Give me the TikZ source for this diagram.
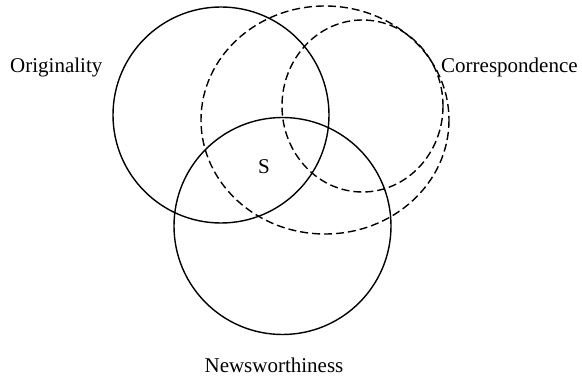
\documentclass[tikz,border=0pt]{standalone}
\usepackage{fontspec}
\setmainfont{Liberation Serif}
\begin{document}
\begin{tikzpicture}[x=1pt,y=-1pt,
  solidset/.style={draw=black,line width=1.4pt},
  dashset/.style={draw=black,line width=1.4pt,dash pattern=on 8pt off 4pt},
  lbl/.style={inner sep=0pt,font=\fontsize{21}{25}\selectfont}]
\useasboundingbox (0,0) rectangle (582,379);
% sets
\draw[solidset] (221,115) circle [radius=108];
\draw[solidset] (282.5,226) circle [radius=108.5];
\draw[dashset] (325,120) ellipse [x radius=124, y radius=114];
\draw[dashset] (362.5,106) ellipse [x radius=80.5, y radius=86];
% labels
\node[lbl,anchor=base west] (orig) at (10,73) {Originality};
\node[lbl,anchor=base west] (corr) at (441,73) {Correspondence};
\node[lbl,anchor=base] (news) at (274,373) {Newsworthiness};
\node[lbl,anchor=base] (s) at (264,174) {S};
\end{tikzpicture}
\end{document}
